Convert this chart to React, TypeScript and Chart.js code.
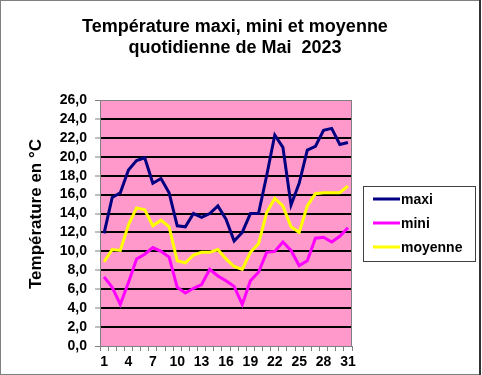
import React, { useEffect, useRef } from "react";
import { Chart, registerables } from "chart.js";

Chart.register(...registerables);

const days = Array.from({ length: 31 }, (_, i) => String(i + 1));
const maxi = [11.9, 15.7, 16.2, 18.6, 19.6, 19.9, 17.2, 17.7, 16.2, 12.7, 12.6, 14.0, 13.6, 14.0, 14.8, 13.4, 11.1, 12.0, 14.0, 14.0, 18.0, 22.3, 21.0, 14.9, 17.2, 20.7, 21.1, 22.8, 23.0, 21.3, 21.5];
const mini = [7.3, 6.2, 4.4, 6.7, 9.2, 9.7, 10.4, 10.0, 9.4, 6.2, 5.6, 6.1, 6.5, 8.1, 7.4, 6.9, 6.3, 4.4, 6.9, 7.8, 9.9, 10.0, 11.0, 10.1, 8.5, 9.0, 11.4, 11.5, 11.0, 11.6, 12.5];
const moyenne = [8.9, 10.2, 10.1, 12.8, 14.6, 14.4, 12.7, 13.3, 12.6, 9.0, 8.8, 9.6, 9.9, 9.9, 10.2, 9.2, 8.4, 8.1, 9.9, 10.8, 14.1, 15.6, 14.8, 12.6, 12.0, 14.8, 16.1, 16.2, 16.2, 16.2, 16.9];
const seriesNames = ["maxi", "mini", "moyenne"];
const titleLines = ["Température maxi, mini et moyenne", "quotidienne de Mai  2023"];
const yTitle = "Température en °C";

const FONT = "'Liberation Sans', Arial, sans-serif";

const decorPlugin = {
  id: "decor",
  beforeDraw(chart: any) {
    const { ctx, chartArea: a, width, height } = chart;
    ctx.save();
    ctx.fillStyle = "#ffffff";
    ctx.fillRect(0, 0, width, height);
    ctx.fillStyle = "#FF99CC";
    ctx.fillRect(a.left, a.top, a.right - a.left, a.bottom - a.top);
    ctx.restore();
  },
  afterDraw(chart: any) {
    const { ctx, chartArea: a, width, height } = chart;
    ctx.save();
    ctx.strokeStyle = "#808080";
    ctx.lineWidth = 1;
    ctx.beginPath();
    ctx.moveTo(a.left, a.top + 0.5);
    ctx.lineTo(a.right - 0.5, a.top + 0.5);
    ctx.lineTo(a.right - 0.5, a.bottom);
    ctx.stroke();
    ctx.strokeStyle = "#808080";
    ctx.strokeRect(0.5, 0.5, width - 2, height - 1);
    ctx.fillStyle = "#333333";
    ctx.fillRect(width - 3, 0, 2, height);
    ctx.fillStyle = "#000";
    ctx.font = `bold 18px ${FONT}`;
    ctx.textAlign = "center";
    ctx.textBaseline = "alphabetic";
    ctx.fillText(titleLines[0], 235, 32);
    ctx.fillText(titleLines[1], 235, 53);
    ctx.save();
    ctx.translate(36, 214);
    ctx.rotate(-Math.PI / 2);
    ctx.font = `bold 17px ${FONT}`;
    ctx.textBaseline = "middle";
    ctx.fillText(yTitle, 0, 0);
    ctx.restore();
    const lx = 363, ly = 186, lw = 112, lh = 75;
    ctx.strokeStyle = "#404040";
    ctx.lineWidth = 1;
    ctx.strokeRect(lx + 0.5, ly + 0.5, lw, lh);
    const ys = [199, 223, 247];
    chart.data.datasets.forEach((ds: any, i: number) => {
      ctx.strokeStyle = ds.borderColor;
      ctx.lineWidth = 3;
      ctx.beginPath();
      ctx.moveTo(373, ys[i]);
      ctx.lineTo(400, ys[i]);
      ctx.stroke();
      ctx.fillStyle = "#000";
      ctx.font = `bold 14px ${FONT}`;
      ctx.textAlign = "left";
      ctx.textBaseline = "middle";
      ctx.fillText(ds.label, 401, ys[i] + 1);
    });
    ctx.restore();
  },
};

export default function App() {
  const ref = useRef<HTMLCanvasElement>(null);
  useEffect(() => {
    if (!ref.current) return;
    const chart = new Chart(ref.current, {
      type: "line",
      data: {
        labels: days,
        datasets: [
          { label: seriesNames[0], data: maxi, borderColor: "#000080", backgroundColor: "#000080" },
          { label: seriesNames[1], data: mini, borderColor: "#FF00FF", backgroundColor: "#FF00FF" },
          { label: seriesNames[2], data: moyenne, borderColor: "#FFFF00", backgroundColor: "#FFFF00" },
        ].map((d) => ({ ...d, borderWidth: 3, pointRadius: 0, tension: 0, fill: false })),
      },
      options: {
        responsive: false,
        animation: false,
        devicePixelRatio: 1,
        layout: { padding: { left: 0, top: 100, right: 130, bottom: 0 } },
        plugins: { legend: { display: false }, title: { display: false }, tooltip: { enabled: false } },
        scales: {
          x: {
            type: "category",
            offset: true,
            afterFit: (s: any) => { s.height = 29; },
            grid: { offset: true, drawOnChartArea: false, drawTicks: true, tickLength: 5, color: "#808080" },
            border: { color: "#808080", width: 1 },
            ticks: {
              autoSkip: false,
              maxRotation: 0,
              padding: 3,
              color: "#000",
              font: { family: FONT, size: 14, weight: "bold" },
              callback: (_v: any, i: number) => (i % 3 === 0 ? days[i] : ""),
            },
          },
          y: {
            min: 0,
            max: 26,
            afterFit: (s: any) => { s.width = 100; },
            grid: {
              color: (c: any) => (c.tick && (c.tick.value === 0 || c.tick.value === 26) ? "#808080" : "#000000"),
              lineWidth: (c: any) => (c.tick && (c.tick.value === 0 || c.tick.value === 26) ? 1 : 2),
              tickColor: "#808080",
              tickWidth: 1,
              tickLength: 5,
            },
            border: { color: "#808080", width: 1 },
            ticks: {
              stepSize: 2,
              autoSkip: false,
              padding: 8,
              color: "#000",
              font: { family: FONT, size: 14, weight: "bold" },
              callback: (v: any) => Number(v).toFixed(1).replace(".", ","),
            },
          },
        },
      },
      plugins: [decorPlugin],
    } as any);
    return () => chart.destroy();
  }, []);
  return (
    <div style={{ position: "absolute", left: 0, top: 0, width: 482, height: 375 }}>
      <canvas ref={ref} width={482} height={375} style={{ display: "block", width: 482, height: 375 }} />
    </div>
  );
}
